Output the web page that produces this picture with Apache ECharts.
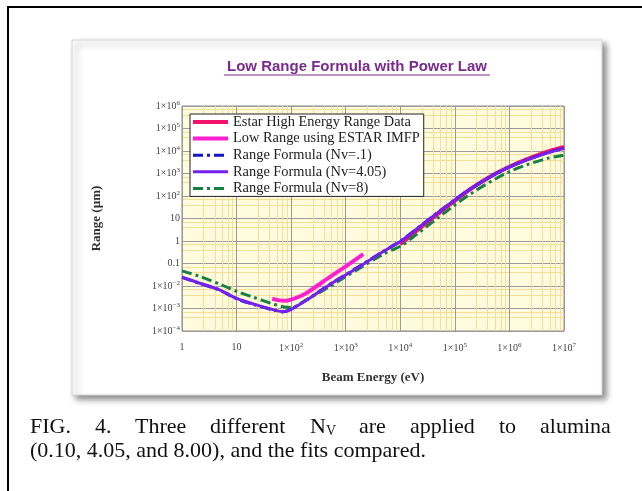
<!DOCTYPE html>
<html>
<head>
<meta charset="utf-8">
<script src="https://cdn.jsdelivr.net/npm/echarts@6.0.0/dist/echarts.min.js"></script>
<style>
  html, body { margin: 0; padding: 0; background: #fff; }
  #chart { width: 642px; height: 491px; }
</style>
</head>
<body>
<div id="chart"></div>
<script>
// beam energy (eV) grid used by the range formula curves
const energy = [1, 2, 5, 10, 20, 50, 70, 100, 200, 500, 1e3, 2e3, 5e3, 1e4, 2e4, 5e4, 1e5, 2e5, 5e5, 1e6, 2e6, 5e6, 1e7]
const rangeNv01 = [0.024, 0.0135, 0.0064, 0.0027, 0.00155, 0.00083, 0.00071, 0.00095, 0.0026, 0.0115, 0.032, 0.09, 0.36, 0.98, 3.5, 19.5, 68, 220, 850, 1950, 3900, 8500, 13500]
const rangeNv405 = [0.025, 0.014, 0.0066, 0.0028, 0.0016, 0.00085, 0.00072, 0.00092, 0.0025, 0.0112, 0.031, 0.087, 0.35, 0.95, 3.4, 19, 66, 214, 830, 1900, 3800, 8300, 13200]
const rangeNv8 = [0.047, 0.028, 0.012, 0.0058, 0.0032, 0.0015, 0.0012, 0.0011, 0.0026, 0.0092, 0.026, 0.072, 0.27, 0.58, 2.0, 11, 40, 130, 500, 1200, 2350, 4700, 6600]

// ESTAR high energy data
const estarEnergy = [1e4, 2e4, 5e4, 1e5, 2e5, 5e5, 1e6, 2e6, 5e6, 1e7]
const estarRange = [0.72, 2.9, 17, 62, 215, 860, 2000, 4100, 9300, 15000]

// low range from ESTAR IMFP
const lowEnergy = [45, 60, 80, 100, 150, 200, 500, 1000, 2100]
const lowRange = [0.0027, 0.0023, 0.0022, 0.0025, 0.0036, 0.0052, 0.024, 0.075, 0.26]

const seriesNames = [
  'Estar High Energy Range Data',
  'Low Range using ESTAR IMFP',
  'Range Formula (Nv=.1)',
  'Range Formula (Nv=4.05)',
  'Range Formula (Nv=8)'
]
const lineWidths = [4, 4, 3, 3, 3]

// caption line 1 is justified in the source, so words are placed one by one
const captionWords = [
  ['FIG.', 30], ['4.', 95], ['Three', 135], ['different', 210], ['N{sub|V}', 310],
  ['are', 359], ['applied', 410], ['to', 499], ['alumina', 540]
]
const captionLine2 = '(0.10, 4.05, and 8.00), and the fits compared.'

const pairs = (xs, ys) => xs.map((x, i) => [x, ys[i]])

const serif = '"Liberation Serif", "DejaVu Serif", serif'

function powLabel(v, small) {
  const e = Math.round(Math.log10(v))
  if (e === 0) return '1'
  if (e === 1) return '10'
  if (small && e === -1) return '0.1'
  return '1×10{s|' + (e < 0 ? '−' + (-e) : e) + '}'
}

const chart = echarts.init(document.getElementById('chart'), null, { renderer: 'canvas' })

const dashDot = [10, 4, 3, 4]
const supStyle = { fontFamily: serif, fontSize: 7, color: '#444', verticalAlign: 'top', padding: [0, 0, 6, 0] }

const option = {
  animation: false,
  backgroundColor: '#fff',
  grid: {
    left: 182, top: 106, width: 382, height: 225,
    show: true,
    backgroundColor: '#fffbdc',
    borderColor: '#8a8a8a',
    borderWidth: 1
  },
  legend: {
    left: 190, top: 114,
    orient: 'vertical',
    data: seriesNames.map((n, i) => ({ name: n, lineStyle: { width: lineWidths[i] } })),
    backgroundColor: '#fff',
    borderColor: '#222',
    borderWidth: 1,
    padding: [1, 4, 1, 1],
    itemWidth: 35,
    itemHeight: 14,
    itemGap: 2.6,
    itemStyle: { opacity: 0 },
    textStyle: { fontFamily: serif, fontSize: 14.4, color: '#222', lineHeight: 14 }
  },
  xAxis: {
    type: 'log',
    logBase: 10,
    min: 1, max: 1e7,
    splitNumber: 7,
    name: 'Beam Energy (eV)',
    nameLocation: 'middle',
    nameGap: 40,
    nameTextStyle: { fontFamily: serif, fontSize: 13, fontWeight: 'bold', color: '#333' },
    axisLine: { show: false },
    axisTick: { show: false },
    axisLabel: {
      margin: 11,
      fontFamily: serif, fontSize: 10, color: '#444',
      formatter: v => powLabel(v, false),
      rich: { s: supStyle }
    },
    splitLine: { show: true, lineStyle: { color: '#9a9a9a', width: 1 } },
    minorTick: { show: false, splitNumber: 6 },
    minorSplitLine: { show: true, lineStyle: { color: '#f3df98', width: 1 } }
  },
  yAxis: {
    type: 'log',
    logBase: 10,
    min: 1e-4, max: 1e6,
    splitNumber: 10,
    name: 'Range (µm)',
    nameLocation: 'middle',
    nameRotate: 90,
    nameGap: 79,
    nameTextStyle: { fontFamily: serif, fontSize: 13, fontWeight: 'bold', color: '#333' },
    axisLine: { show: false },
    axisTick: { show: false },
    axisLabel: {
      margin: 2,
      fontFamily: serif, fontSize: 10, color: '#444',
      formatter: v => powLabel(v, true),
      rich: { s: supStyle }
    },
    splitLine: { show: true, lineStyle: { color: '#9a9a9a', width: 1 } },
    minorTick: { show: false, splitNumber: 3 },
    minorSplitLine: { show: true, lineStyle: { color: '#f3df98', width: 1 } }
  },
  series: [
    {
      name: seriesNames[0], type: 'line', z: 2, showSymbol: false, symbol: 'none', smooth: 0.3,
      data: pairs(estarEnergy, estarRange),
      lineStyle: { color: '#f2146c', width: lineWidths[0] }, itemStyle: { color: '#f2146c' }
    },
    {
      name: seriesNames[1], type: 'line', z: 6, showSymbol: false, symbol: 'none', smooth: 0.3,
      data: pairs(lowEnergy, lowRange),
      lineStyle: { color: '#ff1fd0', width: lineWidths[1] }, itemStyle: { color: '#ff1fd0' }
    },
    {
      name: seriesNames[2], type: 'line', z: 3, showSymbol: false, symbol: 'none', smooth: 0.3,
      data: pairs(energy, rangeNv01),
      lineStyle: { color: '#1414c8', width: lineWidths[2], type: dashDot }, itemStyle: { color: '#1414c8' }
    },
    {
      name: seriesNames[3], type: 'line', z: 5, showSymbol: false, symbol: 'none', smooth: 0.3,
      data: pairs(energy, rangeNv405),
      lineStyle: { color: '#7420ee', width: lineWidths[3] }, itemStyle: { color: '#7420ee' }
    },
    {
      name: seriesNames[4], type: 'line', z: 4, showSymbol: false, symbol: 'none', smooth: 0.3,
      data: pairs(energy, rangeNv8),
      lineStyle: { color: '#138044', width: lineWidths[4], type: dashDot }, itemStyle: { color: '#138044' }
    }
  ],
  graphic: [
    // outer frame (open on right and bottom)
    {
      type: 'polyline', z: -20, silent: true,
      shape: { points: [[642, 7], [8, 7], [8, 491]] },
      style: { stroke: '#000', lineWidth: 2, fill: null }
    },
    // white panel with drop shadow
    {
      type: 'rect', z: -10, silent: true,
      shape: { x: 72, y: 40, width: 530, height: 355 },
      style: {
        fill: '#fff', stroke: '#d4d4d4', lineWidth: 1,
        shadowBlur: 6, shadowOffsetX: 4, shadowOffsetY: 4, shadowColor: 'rgba(0,0,0,0.45)'
      }
    },
    {
      type: 'text', z: 10, silent: true,
      x: 357, y: 67,
      style: {
        text: 'Low Range Formula with Power Law',
        font: 'bold 15px "Liberation Sans", Arial, sans-serif',
        fill: '#7a2a8e', align: 'center', verticalAlign: 'middle'
      }
    },
    {
      type: 'line', z: 10, silent: true,
      shape: { x1: 224, y1: 75, x2: 490, y2: 75 },
      style: { stroke: '#7a2a8e', lineWidth: 1 }
    },
    ...captionWords.map(([w, x]) => ({
      type: 'text', z: 10, silent: true,
      x: x, y: 438,
      style: {
        text: w,
        fontFamily: serif, fontSize: 22, fill: '#111',
        verticalAlign: 'bottom',
        rich: { sub: { fontFamily: serif, fontSize: 14, fill: '#111', verticalAlign: 'bottom' } }
      }
    })),
    {
      type: 'text', z: 10, silent: true,
      x: 30, y: 462,
      style: { text: captionLine2, fontFamily: serif, fontSize: 22, fill: '#111', verticalAlign: 'bottom' }
    }
  ]
}

chart.setOption(option)
</script>
</body>
</html>
